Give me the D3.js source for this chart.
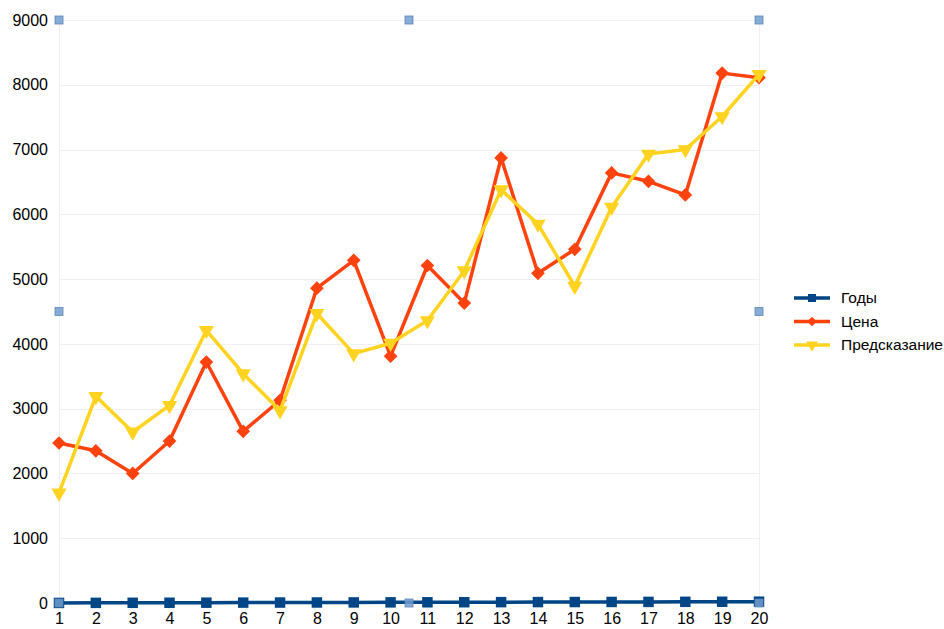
<!DOCTYPE html>
<meta charset="utf-8">
<html lang="ru">
<head>
    <script src="https://d3js.org/d3.v7.min.js"></script>
    <style>
        body { margin: 0; background: #fff; }
        text { font-family: "Liberation Sans", Arial, sans-serif; font-size: 15.5px; fill: #000; }
        .grid line { stroke: #f0f0f0; stroke-width: 1; shape-rendering: crispEdges; }
        .axis path { display: none; }
        .axis line { display: none; }
    </style>
</head>
<body>
<svg width="944" height="629"></svg>
<script>
    // Data
    var years = d3.range(1, 21);
    var yearSeries = [1, 2, 3, 4, 5, 6, 7, 8, 9, 10, 11, 12, 13, 14, 15, 16, 17, 18, 19, 20];
    var price = [2470, 2350, 2000, 2500, 3720, 2650, 3130, 4860, 5290, 3810,
                 5210, 4630, 6870, 5090, 5460, 6640, 6510, 6300, 8180, 8110];
    var forecast = [1700, 3190, 2640, 3050, 4210, 3540, 2970, 4470, 3850, 4010,
                    4360, 5130, 6380, 5850, 4890, 6110, 6930, 7000, 7510, 8160];
    var yTicks = [0, 1000, 2000, 3000, 4000, 5000, 6000, 7000, 8000, 9000];
    var seriesNames = ["Годы", "Цена", "Предсказание"];
    var colors = ["#004586", "#ff420e", "#ffd320"];

    var svg = d3.select("svg"),
        margin = { top: 20, right: 185, bottom: 26, left: 59 },
        width = +svg.attr("width") - margin.left - margin.right,
        height = +svg.attr("height") - margin.top - margin.bottom,
        g = svg.append("g").attr("transform", "translate(" + margin.left + "," + margin.top + ")");

    var x = d3.scaleLinear().domain([1, 20]).range([0, width]);
    var y = d3.scaleLinear().domain([0, 9000]).range([height, 0]);

    // grid lines
    g.append("g").attr("class", "grid")
        .selectAll("line").data(yTicks).enter().append("line")
        .attr("x1", 0).attr("x2", width)
        .attr("y1", function(d) { return Math.round(y(d)) + 0.5; })
        .attr("y2", function(d) { return Math.round(y(d)) + 0.5; });
    g.append("g").attr("class", "grid")
        .selectAll("line").data([1, 20]).enter().append("line")
        .attr("x1", function(d) { return Math.round(x(d)) + 0.5; })
        .attr("x2", function(d) { return Math.round(x(d)) + 0.5; })
        .attr("y1", 0).attr("y2", height);

    // axes
    g.append("g").attr("class", "axis")
        .call(d3.axisLeft(y).tickValues(yTicks).tickSize(0).tickPadding(11).tickFormat(d3.format("d")))
        .selectAll("text").style("font-size", "16px").style("font-family", "Liberation Sans, Arial, sans-serif");
    g.append("g").attr("class", "axis")
        .attr("transform", "translate(0," + height + ")")
        .call(d3.axisBottom(x).tickValues(years).tickSize(0).tickPadding(10).tickFormat(d3.format("d")))
        .selectAll("text").style("font-size", "16px").style("font-family", "Liberation Sans, Arial, sans-serif");

    var all = [yearSeries, price, forecast];
    var line = d3.line()
        .x(function(d, i) { return x(years[i]); })
        .y(function(d) { return y(d); });

    var symbols = [d3.symbolSquare, d3.symbolDiamond2, d3.symbolTriangle];
    var sizes = [110, 120, 100];

    all.forEach(function(vals, s) {
        g.append("path")
            .datum(vals)
            .attr("fill", "none")
            .attr("stroke", colors[s])
            .attr("stroke-width", 3.5)
            .attr("stroke-linejoin", "round")
            .attr("d", line);
        g.selectAll(".m" + s).data(vals).enter().append("path")
            .attr("class", "m" + s)
            .attr("d", d3.symbol().type(symbols[s]).size(sizes[s]))
            .attr("fill", colors[s])
            .attr("transform", function(d, i) {
                var t = "translate(" + x(years[i]) + "," + y(d) + ")";
                if (s === 2) t += " rotate(180)";
                return t;
            });
    });

    // selection handles
    var handles = [[0, 0], [0.5, 0], [1, 0], [0, 0.5], [1, 0.5], [0, 1], [0.5, 1], [1, 1]];
    g.selectAll(".handle").data(handles).enter().append("rect")
        .attr("class", "handle")
        .attr("x", function(d) { return d[0] * width - 4; })
        .attr("y", function(d) { return d[1] * height - 4; })
        .attr("width", 8).attr("height", 8)
        .attr("fill", "#729fcf")
        .attr("fill-opacity", 0.85)
        .attr("stroke", "#5b86b8")
        .attr("stroke-width", 0.8);

    // legend
    var legend = svg.append("g")
        .selectAll("g").data(seriesNames).enter().append("g")
        .attr("transform", function(d, i) { return "translate(794," + (298 + i * 23.5) + ")"; });
    legend.append("line")
        .attr("x1", 0).attr("x2", 36).attr("y1", 0).attr("y2", 0)
        .attr("stroke", function(d, i) { return colors[i]; })
        .attr("stroke-width", 3.5);
    legend.append("path")
        .attr("d", function(d, i) { return d3.symbol().type(symbols[i]).size([64, 60, 60][i])(); })
        .attr("fill", function(d, i) { return colors[i]; })
        .attr("transform", function(d, i) { return "translate(18,0)" + (i === 2 ? " rotate(180)" : ""); });
    legend.append("text")
        .attr("x", 47).attr("dy", "0.35em")
        .text(function(d) { return d; });
</script>
</body>
</html>
